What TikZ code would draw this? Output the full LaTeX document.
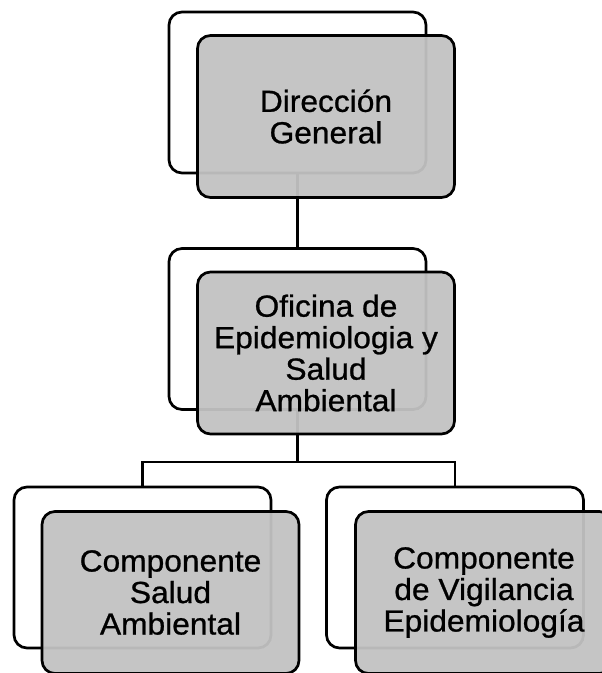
\documentclass[tikz,border=0pt]{standalone}
\usepackage{fontspec}
\setmainfont{Liberation Sans}[FakeStretch=1.04,FakeBold=0.8]
\begin{document}
\begin{tikzpicture}[x=1pt,y=-1pt,
  backbox/.style={draw=black, line width=2.7pt, fill=white, rounded corners=13pt,
    minimum width=257pt, minimum height=161pt, inner sep=0pt},
  frontbox/.style={draw=black, line width=2.7pt, fill=black!24, fill opacity=0.95, text opacity=1,
    rounded corners=13pt, minimum width=257pt, minimum height=162pt, inner sep=0pt,
    align=center, font=\fontsize{30.5pt}{31.5pt}\selectfont},
  link/.style={draw=black, line width=2.7pt}]
\useasboundingbox (0,0) rectangle (602,673);
\clip (0,0) rectangle (602,673);
% back boxes
\node[backbox] (b1) at (297.5,92.5) {};
\node[backbox] (b2) at (297.5,329) {};
\node[backbox] (b3) at (142.5,567.5) {};
\node[backbox] (b4) at (455,567.5) {};
% connectors
\coordinate (j) at (297.5,462);
\draw[link] (b1.south) -- (b2.north);
\draw[link] (b2.south) -- (j);
\draw[link] (j) -| (b3.north);
\draw[link] (j) -| (b4.north);
% front boxes
\node[frontbox] (f1) at (326,116.5) {Dirección\\General};
\node[frontbox] (f2) at (326,353) {Oficina de\\Epidemiologia y\\Salud\\Ambiental};
\node[frontbox] (f3) at (170.5,592.5) {Componente\\Salud\\Ambiental};
\node[frontbox] (f4) at (484,592.5) {Componente\\de Vigilancia\\Epidemiología};
\end{tikzpicture}
\end{document}
